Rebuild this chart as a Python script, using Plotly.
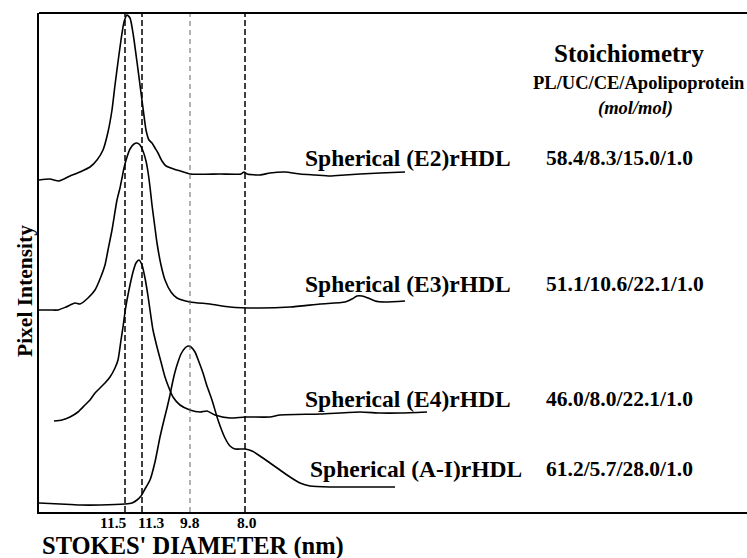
import plotly.graph_objects as go

# Densitometric scans of the gel lanes: migration distance (mm) vs pixel intensity
E2_MIG = [0, 1.1, 2.0, 3.1, 4.1, 5.1, 5.8, 6.4, 6.9, 7.3, 7.6, 7.9, 8.2, 8.5, 8.8, 9.1, 9.4,
          9.8, 10.1, 10.4, 10.7, 11.0, 11.3, 11.6, 11.9, 12.3, 12.7, 13.8, 15.1, 18.1, 20.2,
          20.5, 20.8, 22.1, 23.1, 24.6, 26.1, 27.6, 29.1, 30.6, 32.1, 34.1, 36.6]
E2_INT = [66.4, 66.6, 66.2, 67.2, 68.0, 69.0, 70.4, 72.4, 76.0, 80.4, 85.4, 90.0, 94.4, 98.0,
          99.4, 98.8, 95.8, 90.0, 85.4, 80.8, 76.4, 74.4, 73.8, 72.8, 71.8, 70.2, 69.2, 68.4,
          67.6, 67.6, 67.6, 68.0, 67.6, 67.4, 67.8, 68.0, 67.6, 67.4, 67.2, 67.4, 67.6, 67.8, 68.0]

E3_MIG = [0, 1.1, 1.9, 2.7, 3.6, 4.1, 4.9, 5.6, 6.1, 6.6, 6.9, 7.3, 7.8, 8.1, 8.3, 8.5, 8.8,
          9.1, 9.5, 9.8, 10.1, 10.4, 10.7, 10.9, 11.1, 11.3, 11.6, 11.8, 12.2, 12.6, 13.2, 13.8,
          15.1, 17.1, 19.1, 22.1, 25.1, 28.1, 30.6, 31.3, 31.8, 32.3, 32.9, 33.6, 34.6, 36.6]
E3_INT = [40.4, 40.4, 40.4, 41.0, 41.8, 41.6, 42.8, 44.4, 46.6, 49.4, 52.4, 56.4, 62.4, 64.8,
          66.8, 68.8, 71.0, 72.6, 73.6, 73.8, 73.4, 72.2, 70.2, 68.0, 65.0, 61.4, 56.8, 53.8,
          49.4, 46.4, 44.0, 42.8, 42.0, 41.6, 41.0, 40.8, 41.0, 41.6, 42.0, 42.6, 43.2, 43.2,
          42.8, 42.2, 42.0, 42.2]

E4_MIG = [1.5, 2.3, 3.1, 3.9, 4.6, 5.1, 5.6, 6.1, 6.6, 7.1, 7.6, 7.9, 8.2, 8.4, 8.6, 8.8, 9.1,
          9.4, 9.7, 10.0, 10.3, 10.6, 10.9, 11.1, 11.4, 11.8, 12.2, 12.6, 13.0, 13.4, 14.1,
          15.1, 16.1, 16.8, 17.6, 19.1, 20.6, 23.1, 24.1, 28.1, 32.1, 34.1, 36.1, 38.8]
E4_INT = [18.2, 18.4, 19.0, 20.0, 21.4, 22.4, 23.8, 24.8, 25.8, 27.0, 28.8, 30.4, 34.4, 37.0,
          40.0, 42.4, 45.4, 48.0, 49.8, 50.4, 49.4, 46.8, 43.2, 40.4, 36.4, 33.0, 30.0, 27.0,
          24.8, 23.0, 21.4, 20.4, 20.0, 20.2, 19.4, 18.8, 19.0, 19.0, 19.4, 19.6, 20.0, 19.8,
          19.8, 20.0]

AI_MIG = [0, 2.1, 4.1, 6.1, 8.6, 9.3, 9.8, 10.2, 10.6, 11.1, 11.6, 12.1, 12.5, 12.8, 13.1,
          13.3, 13.6, 13.9, 14.2, 14.6, 14.9, 15.2, 15.6, 16.0, 16.4, 16.8, 17.3, 17.9, 18.6,
          19.1, 19.6, 20.6, 21.3, 22.1, 23.1, 24.1, 25.1, 26.1, 27.1, 29.1, 32.1, 35.6]
AI_INT = [1.8, 1.6, 1.4, 1.4, 1.6, 1.8, 2.4, 3.2, 4.6, 6.4, 10.0, 15.0, 18.4, 20.8, 23.4, 25.4,
          28.0, 30.0, 31.6, 32.8, 33.2, 33.0, 32.0, 30.0, 27.8, 25.2, 22.4, 18.4, 14.8, 13.2,
          12.6, 12.6, 12.2, 11.2, 9.8, 8.4, 7.0, 5.8, 5.2, 5.0, 5.0, 5.0]

# Stokes' diameter markers (nm) and their migration positions
DIAM_LABELS = ["11.5", "11.3", "9.8", "8.0"]
DIAM_MIG = [8.6, 10.3, 15.1, 20.6]

# Particle names and stoichiometry (PL/UC/CE/Apolipoprotein, mol/mol)
PARTICLES = ["Spherical (E2)rHDL", "Spherical (E3)rHDL", "Spherical (E4)rHDL", "Spherical (A-I)rHDL"]
STOICH = ["58.4/8.3/15.0/1.0", "51.1/10.6/22.1/1.0", "46.0/8.0/22.1/1.0", "61.2/5.7/28.0/1.0"]

SERIF = "Liberation Serif, Times New Roman, serif"

fig = go.Figure()
for mig, inten in [(E2_MIG, E2_INT), (E3_MIG, E3_INT), (E4_MIG, E4_INT), (AI_MIG, AI_INT)]:
    fig.add_trace(go.Scatter(x=mig, y=inten, mode="lines",
                             line=dict(color="black", width=1.6, shape="spline", smoothing=0.6),
                             showlegend=False, hoverinfo="skip"))

# vertical dashed reference lines and their diameter labels
label_shift = [-12, 9, 0, 2]
for lbl, pos, sh in zip(DIAM_LABELS, DIAM_MIG, label_shift):
    thin = lbl == "9.8"
    fig.add_shape(type="line", xref="x", yref="paper", x0=pos, x1=pos, y0=0, y1=1,
                  line=dict(color="#666666" if thin else "black", width=1 if thin else 1.5,
                            dash="5px,4px" if thin else "6px,3px"))
    fig.add_annotation(x=pos, y=0, xref="x", yref="paper", yanchor="top", xanchor="center",
                       text=f"<b>{lbl}</b>", showarrow=False, xshift=sh, yshift=0,
                       font=dict(family=SERIF, size=15.5, color="black"))

# top border of the frame
fig.add_shape(type="line", xref="paper", yref="paper", x0=0, x1=1, y0=1, y1=1,
              line=dict(color="black", width=2))

label_y = [70.8, 45.6, 22.6, 8.6]
label_x = [26.4, 26.4, 26.4, 26.9]
for name, st, ly, lx in zip(PARTICLES, STOICH, label_y, label_x):
    fig.add_annotation(x=lx, y=ly, xref="x", yref="y", xanchor="left", yanchor="middle",
                       text=f"<b>{name}</b>", showarrow=False,
                       font=dict(family=SERIF, size=23.5, color="black"))
    fig.add_annotation(x=50.5, y=ly, xref="x", yref="y", xanchor="left", yanchor="middle",
                       text=f"<b>{st}</b>", showarrow=False,
                       font=dict(family=SERIF, size=21.5, color="black"))

fig.add_annotation(x=59.0, y=91.8, xref="x", yref="y", xanchor="center", yanchor="middle",
                   text="<b>Stoichiometry</b>", showarrow=False,
                   font=dict(family=SERIF, size=25, color="black"))
fig.add_annotation(x=70.8, y=85.8, xref="x", yref="y", xanchor="right", yanchor="middle",
                   text="<b>PL/UC/CE/Apolipoprotein</b>", showarrow=False,
                   font=dict(family=SERIF, size=18.5, color="black"))
fig.add_annotation(x=59.6, y=80.8, xref="x", yref="y", xanchor="center", yanchor="middle",
                   text="<b><i>(mol/mol)</i></b>", showarrow=False,
                   font=dict(family=SERIF, size=18.5, color="black"))

# axis titles
fig.add_annotation(x=0, y=44.2, xref="paper", yref="y", xanchor="center", yanchor="middle",
                   xshift=-14, textangle=-90, text="<b>Pixel Intensity</b>", showarrow=False,
                   font=dict(family=SERIF, size=21.5, color="black"))
fig.add_annotation(x=0, y=0, xref="paper", yref="paper", xanchor="left", yanchor="top",
                   xshift=1, yshift=-18, text="<b>STOKES' DIAMETER (nm)</b>", showarrow=False,
                   font=dict(family=SERIF, size=24.5, color="black"))

fig.update_layout(
    width=747, height=558,
    margin=dict(l=39, r=0, t=13, b=46),
    paper_bgcolor="white", plot_bgcolor="white",
    xaxis=dict(range=[0, 70.8], showline=True, linecolor="black", linewidth=2,
               showgrid=False, zeroline=False, showticklabels=False, ticks=""),
    yaxis=dict(range=[0, 99.8], showline=True, linecolor="black", linewidth=2,
               showgrid=False, zeroline=False, showticklabels=False, ticks=""),
)

fig.write_html("out.html")
